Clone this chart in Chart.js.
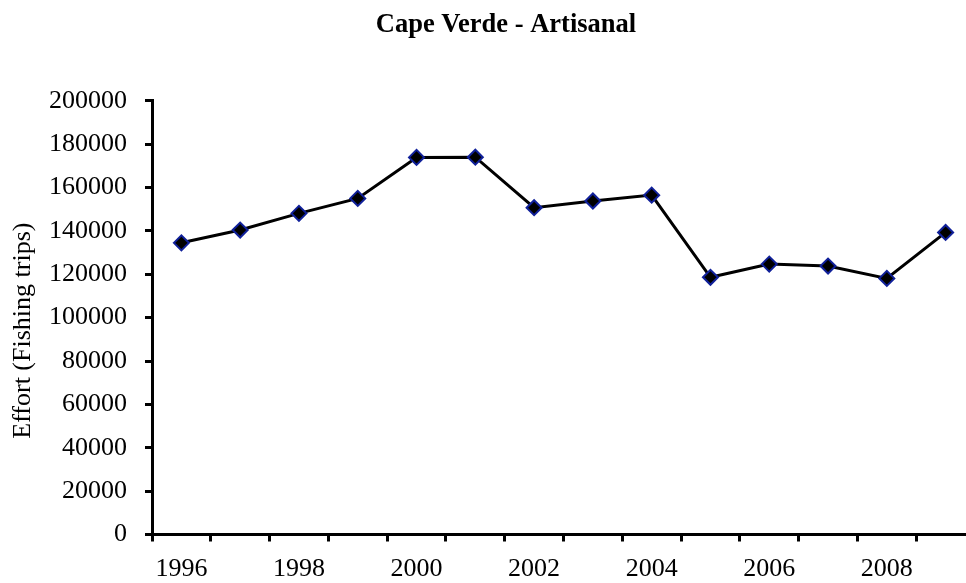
<!DOCTYPE html>
<html>
<head>
<meta charset="utf-8">
<title>Cape Verde - Artisanal</title>
<script src="https://cdn.jsdelivr.net/npm/chart.js@4"></script>
<style>
  html, body {
    margin: 0;
    padding: 0;
    background: #ffffff;
    overflow: hidden;
  }
  #wrap {
    width: 1012px;
    height: 583px;
  }
</style>
</head>
<body>
<div id="wrap">
  <canvas id="effortChart" width="1012" height="583"></canvas>
</div>
<script>
// Artisanal fishing effort, Cape Verde
const years = ["1996", "1997", "1998", "1999", "2000", "2001", "2002",
  "2003", "2004", "2005", "2006", "2007", "2008", "2009"]
const effort = [134500, 140400, 148100, 155000, 173900, 174000, 150700,
  153800, 156500, 118600, 124700, 123800, 118100, 139300]
const yTicks = [0, 20000, 40000, 60000, 80000, 100000, 120000, 140000,
  160000, 180000, 200000]

const serif = "'Liberation Serif', 'Times New Roman', serif"

document.addEventListener("DOMContentLoaded", () => {
  const ctx = document.getElementById("effortChart")
  new Chart(ctx, {
    type: "line",
    data: {
      labels: years,
      datasets: [
        {
          label: "Effort",
          data: effort,
          borderColor: "#000000",
          borderWidth: 3,
          tension: 0,
          fill: false,
          pointStyle: "rectRot",
          pointRadius: 7.5,
          pointBackgroundColor: "#000000",
          pointBorderColor: "#10209a",
          pointBorderWidth: 2,
        },
      ],
    },
    options: {
      responsive: false,
      animation: false,
      // left/right padding keeps the title centred where the original had it
      layout: {
        padding: { left: 37, right: 37, top: 0, bottom: 0 },
      },
      plugins: {
        legend: { display: false },
        tooltip: { enabled: false },
        title: {
          display: true,
          text: "Cape Verde - Artisanal",
          color: "#000000",
          font: { family: serif, size: 26.5, weight: "bold" },
          padding: { top: 9, bottom: 60 },
        },
      },
      scales: {
        x: {
          type: "category",
          offset: true,
          grid: {
            offset: true,
            drawOnChartArea: false,
            drawTicks: true,
            tickLength: 7,
            tickWidth: 3,
            tickColor: "#000000",
          },
          border: { display: true, color: "#000000", width: 3 },
          ticks: {
            autoSkip: false,
            maxRotation: 0,
            padding: 12,
            color: "#000000",
            font: { family: serif, size: 26 },
            callback: (value, index) => (index % 2 === 0 ? years[index] : ""),
          },
          afterFit: (scale) => {
            scale.height = 48.5
          },
        },
        y: {
          min: yTicks[0],
          max: yTicks[yTicks.length - 1],
          afterBuildTicks: (scale) => {
            scale.ticks = yTicks.map((v) => ({ value: v }))
          },
          grid: {
            drawOnChartArea: false,
            drawTicks: true,
            tickLength: 7,
            tickWidth: 3,
            tickColor: "#000000",
          },
          border: { display: true, color: "#000000", width: 3 },
          ticks: {
            padding: 18,
            color: "#000000",
            font: { family: serif, size: 26 },
            callback: (value) => String(value),
          },
          title: {
            display: true,
            text: "Effort (Fishing trips)    ",
            color: "#000000",
            font: { family: serif, size: 26 },
            padding: { top: -29.6, bottom: 0 },
          },
          afterFit: (scale) => {
            scale.width = 115
          },
        },
      },
    },
  })
})
</script>
</body>
</html>
